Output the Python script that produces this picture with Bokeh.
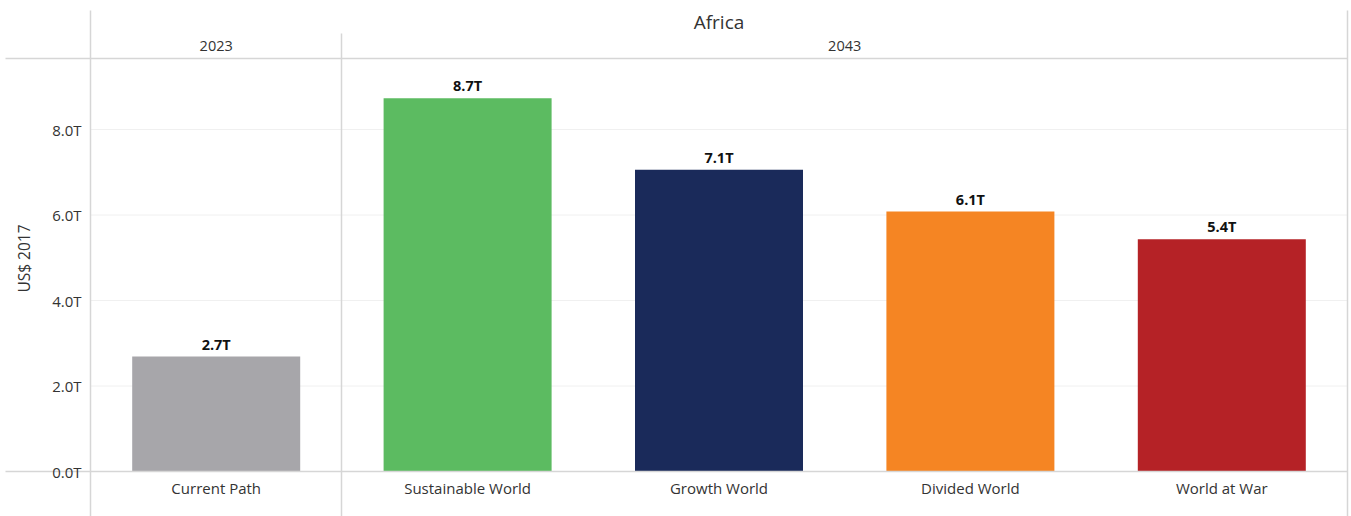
from bokeh.plotting import figure
from bokeh.models import (LinearAxis, FixedTicker, PrintfTickFormatter, ColumnDataSource, Range1d)
from bokeh.core.properties import value
from bokeh.embed import file_html
from bokeh.resources import INLINE

# ---- data ----
region = "Africa"
categories = ["Current Path", "Sustainable World", "Growth World", "Divided World", "World at War"]
years = ["2023", "2043", "2043", "2043", "2043"]
values = [2.69, 8.73, 7.06, 6.08, 5.43]  # trillions US$ 2017
colors = ["#A7A6AA", "#5CBB61", "#1A2A5A", "#F58523", "#B52226"]
y_ticks = [0, 2, 4, 6, 8]
y_title = "US$ 2017"

# ---- geometry (pixels) ----
W, H = 1351, 516
left_px, right_px = 90, 1347
base_px = 471
top_px = 58
px_per_unit = (base_px - 129) / 8.0
slot_px = (right_px - left_px) / len(categories)

def xv(px):
    return (px - left_px) / slot_px

def yv(py):
    return (base_px - py) / px_per_unit

FONT = "Open Sans"
TXT = "#333333"
LINE = "#D6D6D6"
GRID = "#F0F0F0"

p = figure(width=W, height=H, output_backend="svg", toolbar_location=None,
           x_range=Range1d(xv(0), xv(W)), y_range=Range1d(yv(H), yv(0)),
           x_axis_type=None, y_axis_type=None, min_border=0,
           outline_line_color=None, background_fill_color="white")
p.grid.visible = False

# gridlines
for t in y_ticks[1:]:
    p.segment(x0=xv(left_px), x1=xv(right_px), y0=t, y1=t, line_color=GRID, line_width=1)

# bars
xs = [i + 0.5 for i in range(len(categories))]
labels = [f"{v:.1f}T" for v in values]
src = ColumnDataSource(dict(x=xs, top=values, color=colors, label=labels, cat=categories))
p.vbar(x="x", top="top", bottom=0, width=168 / slot_px, fill_color="color", line_color=None, source=src)
p.text(x="x", y="top", text="label", source=src, text_align="center", text_baseline="bottom",
       y_offset=-3, text_font=value(FONT), text_font_size="14.5px", text_font_style="bold",
       text_color="#111111")

# frame lines
p.segment(x0=[xv(left_px), xv(341), xv(right_px)], x1=[xv(left_px), xv(341), xv(right_px)],
          y0=[yv(10), yv(33), yv(10)], y1=[yv(H), yv(H), yv(H)], line_color=LINE, line_width=1.5)
p.segment(x0=[xv(5), xv(5)], x1=[xv(right_px), xv(right_px)], y0=[yv(top_px), 0], y1=[yv(top_px), 0],
          line_color=LINE, line_width=1.5)

# headers
p.text(x=[xv((left_px + right_px) / 2)], y=[yv(21)], text=[region], text_align="center",
       text_baseline="middle", text_font=value(FONT), text_font_size="19px", text_color=TXT)
groups = []
for i, yr in enumerate(years):
    if groups and groups[-1][0] == yr:
        groups[-1][2] = i + 1
    else:
        groups.append([yr, i, i + 1])
p.text(x=[(g[1] + g[2]) / 2 for g in groups], y=[yv(45)] * len(groups), text=[g[0] for g in groups],
       text_align="center", text_baseline="middle", text_font=value(FONT), text_font_size="14.5px",
       text_color=TXT)

# y axis
yax = LinearAxis(fixed_location=0, ticker=FixedTicker(ticks=y_ticks),
                 formatter=PrintfTickFormatter(format="%.1fT"), axis_label=y_title)
yax.axis_line_color = None
yax.major_tick_line_color = None
yax.major_tick_out = 0
yax.major_tick_in = 0
yax.minor_tick_line_color = None
yax.major_label_standoff = 9
yax.major_label_text_font = FONT
yax.major_label_text_font_size = "15px"
yax.major_label_text_color = TXT
yax.axis_label_text_font = FONT
yax.axis_label_text_font_size = "15.5px"
yax.axis_label_text_font_style = "normal"
yax.axis_label_text_color = TXT
yax.axis_label_standoff = 14
p.add_layout(yax, "left")

# x axis
xax = LinearAxis(fixed_location=0, ticker=FixedTicker(ticks=xs),
                 major_label_overrides={x: c for x, c in zip(xs, categories)})
xax.axis_line_color = None
xax.major_tick_line_color = None
xax.major_tick_out = 0
xax.major_tick_in = 0
xax.minor_tick_line_color = None
xax.major_label_standoff = 6
xax.major_label_text_font = FONT
xax.major_label_text_font_size = "15px"
xax.major_label_text_color = TXT
p.add_layout(xax, "below")

open("out.html", "w").write(file_html(p, INLINE))
